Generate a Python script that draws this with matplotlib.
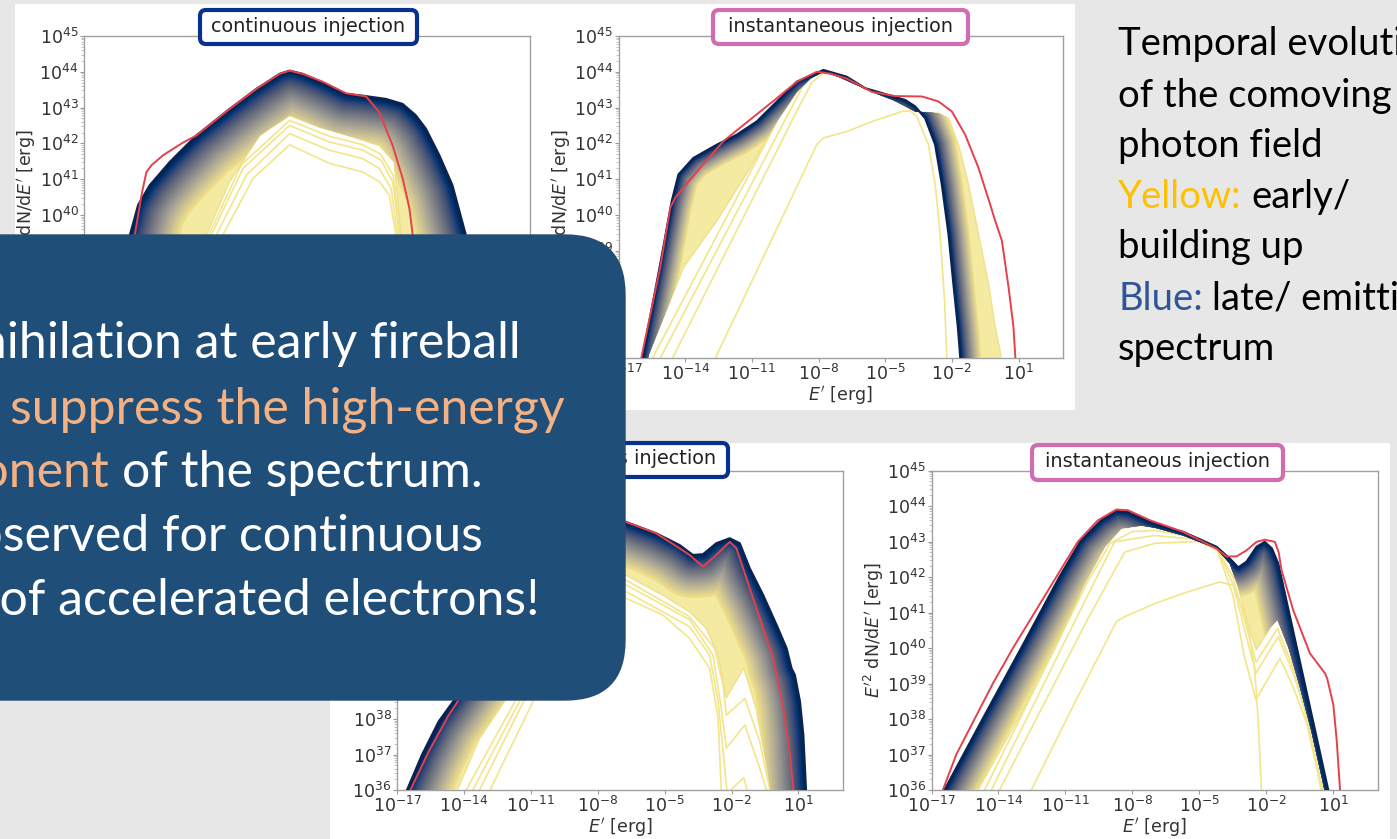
import numpy as np
import matplotlib
matplotlib.use("Agg")
import matplotlib.pyplot as plt
from matplotlib.patches import FancyBboxPatch, Rectangle
from matplotlib.transforms import IdentityTransform
from matplotlib.ticker import LogLocator, NullLocator
from matplotlib.colors import to_rgb

# ---- data: log10(E') and log10(E'^2 dN/dE') ----
# top left: continuous injection
p1_late_e = [-15.6, -14.94, -14.57, -14.05, -13.15, -11.96, -10.47, -9.27, -8.23, -7.78, -7.19, -6.29, -5.25, -4.5, -3.46, -2.71, -2.12, -1.67, -1.07, -0.48, 0.12, 0.5]
p1_late_y = [37.5, 39.44, 40.28, 40.83, 41.48, 42.22, 42.96, 43.52, 43.94, 44.03, 43.94, 43.7, 43.38, 43.33, 43.24, 43.1, 42.78, 42.41, 41.67, 40.83, 39.44, 37.5]
p1_edge_e = [-12.2, -11.51, -10.47, -9.12, -7.78, -6.44, -4.95, -3.76, -3.09, -2.79, -2.6]
p1_edge_y = [37.5, 39.44, 40.93, 42.22, 42.78, 42.45, 42.18, 41.94, 41.48, 39.44, 37.5]
p1_red_e = [-15.2, -14.72, -14.42, -14.2, -13.97, -13.45, -12.56, -11.96, -10.47, -9.27, -8.23, -7.78, -7.19, -6.29, -5.25, -4.35, -3.76, -3.16, -2.71, -2.41, -2.26, -2.1]
p1_red_y = [37.5, 39.44, 40.56, 41.2, 41.39, 41.67, 42.02, 42.22, 42.96, 43.52, 43.94, 44.03, 43.94, 43.72, 43.4, 43.31, 42.87, 41.94, 41.02, 40.19, 39.44, 38.0]
p1_c0_e = [-11.5, -10.77, -9.42, -7.78, -6.0, -4.5, -3.76, -3.31, -3.01, -2.9]
p1_c0_y = [38.0, 39.44, 41.02, 41.96, 41.44, 41.2, 40.93, 40.56, 39.44, 38.5]
p1_c1_e = [-11.8, -11.06, -9.72, -7.78, -6.0, -4.5, -3.76, -3.23, -2.94, -2.85]
p1_c1_y = [38.0, 39.44, 41.11, 42.27, 41.81, 41.57, 41.3, 40.74, 39.44, 38.5]
p1_c2_e = [-12.0, -11.29, -9.87, -7.78, -6.0, -4.5, -3.68, -3.16, -2.86, -2.78]
p1_c2_y = [38.0, 39.44, 41.3, 42.5, 42.04, 41.81, 41.53, 40.93, 39.44, 38.5]
p1_c3_e = [-12.1, -11.4, -9.95, -7.78, -6.0, -4.5, -3.7, -3.13, -2.83, -2.76]
p1_c3_y = [38.0, 39.44, 41.4, 42.64, 42.2, 41.96, 41.7, 41.1, 39.44, 38.5]

# top middle: instantaneous injection
p2_late_e = [-16.2, -15.9, -15.12, -14.6, -14.3, -13.63, -12.58, -11.68, -10.78, -10.03, -8.98, -7.78, -6.73, -5.9, -4.85, -4.1, -3.65, -3.2, -2.75, -2.45, -2.15, -1.93, -1.73, -1.63, -1.55]
p2_late_y = [35.1, 36.08, 38.63, 40.39, 41.13, 41.59, 41.96, 42.24, 42.61, 43.07, 43.72, 44.05, 43.86, 43.54, 43.35, 43.21, 43.03, 42.7, 41.96, 40.85, 39.46, 38.07, 36.87, 36.08, 35.3]
p2_edge_e = [-15.8, -15.65, -14.07, -12.58, -11.08, -9.88, -8.98, -8.38, -7.78, -7.1, -5.6, -4.6, -3.65, -2.6, -2.15, -1.7, -1.25, -0.8, -0.35, -0.05, 0.17, 0.3]
p2_edge_y = [35.5, 36.08, 38.54, 39.83, 41.31, 42.61, 43.44, 43.81, 44.0, 43.86, 43.44, 43.2, 42.89, 42.84, 42.7, 41.96, 40.85, 39.46, 38.07, 36.87, 36.2, 35.6]
p2_red_e = [-16.2, -15.95, -15.12, -14.67, -14.45, -13.33, -12.28, -11.08, -9.88, -8.98, -8.08, -7.48, -6.73, -5.6, -4.55, -3.35, -2.6, -2.0, -1.4, -0.8, -0.28, -0.05, 0.25, 0.55, 0.77, 0.85, 0.9]
p2_red_y = [35.2, 36.08, 38.54, 40.2, 40.48, 41.31, 42.06, 42.66, 43.26, 43.72, 44.0, 43.95, 43.81, 43.44, 43.32, 43.31, 43.17, 42.89, 42.24, 41.31, 40.3, 39.83, 39.28, 37.98, 36.87, 36.08, 35.3]
p2_c0_e = [-12.8, -12.58, -8.08, -7.78, -6.73, -5.6, -4.25, -3.88, -3.58, -3.05, -2.75, -2.53, -2.33, -2.23, -2.2]
p2_c0_y = [35.5, 36.08, 41.96, 42.15, 42.33, 42.61, 42.89, 42.91, 42.75, 41.96, 40.85, 39.46, 37.61, 36.08, 35.5]
p2_c1_e = [-14.75, -14.5, -8.9, -8.3, -7.7]
p2_c1_y = [35.8, 36.08, 43.0, 43.7, 44.0]
p2_c2_e = [-15.3, -15.05, -8.68, -8.1, -7.6]
p2_c2_y = [35.8, 36.08, 43.63, 43.95, 44.02]
p2_c3_e = [-15.6, -15.4, -9.13, -8.4, -7.8]
p2_c3_y = [35.8, 36.08, 43.49, 43.86, 44.0]

# bottom middle: continuous injection
p3_late_e = [-16.8, -16.55, -15.88, -15.13, -14.38, -13.0, -12.0, -10.5, -9.5, -8.5, -7.6, -6.73, -5.38, -4.33, -3.73, -3.28, -2.68, -2.08, -1.63, -1.18, -0.58, 0.02, 0.47, 0.69, 0.84, 1.07, 1.22, 1.34, 1.38]
p3_late_y = [35.6, 36.0, 36.99, 37.93, 38.58, 39.8, 40.8, 42.3, 43.2, 43.7, 43.75, 43.55, 43.23, 42.9, 42.62, 42.64, 42.95, 43.09, 42.95, 42.24, 41.49, 40.65, 39.99, 39.43, 39.24, 38.49, 37.55, 36.0, 35.5]
p3_edge_e = [-14.7, -14.3, -13.3, -11.0, -9.0, -7.8, -6.73, -5.08, -3.88, -3.13, -2.6, -2.23, -1.45, -0.9, -0.4, -0.25, -0.1]
p3_edge_y = [35.6, 36.0, 37.45, 39.6, 41.3, 41.9, 42.05, 41.49, 41.02, 40.55, 39.8, 38.6, 39.43, 38.3, 36.6, 36.0, 35.5]
p3_red_e = [-16.65, -16.4, -15.58, -14.68, -13.0, -11.0, -9.0, -7.6, -6.73, -5.38, -4.33, -3.88, -3.28, -2.68, -2.08, -1.78, -1.33, -0.73, -0.13, 0.32, 0.62, 0.77, 0.82]
p3_red_y = [35.6, 36.0, 37.08, 38.11, 39.7, 41.4, 42.9, 43.75, 43.55, 43.23, 42.81, 42.62, 42.29, 42.62, 42.99, 42.81, 41.96, 40.83, 39.71, 38.3, 36.99, 36.0, 35.6]
p3_c0_e = [-13.1, -12.83, -10.9, -9.0, -7.8, -6.73, -5.08, -3.88, -2.98, -2.6, -2.46, -2.42]
p3_c0_y = [35.6, 36.0, 38.49, 40.3, 41.2, 41.4, 40.93, 40.27, 39.43, 38.02, 36.0, 35.5]
p3_c1_e = [-13.6, -13.3, -11.0, -9.0, -7.8, -6.73, -3.88, -2.98, -2.6, -2.3, -2.2, -1.45, -1.1]
p3_c1_y = [35.6, 36.0, 38.9, 40.8, 41.45, 41.59, 40.6, 39.8, 38.49, 36.61, 35.9, 36.35, 35.5]
p3_c2_e = [-13.9, -13.6, -11.0, -9.0, -7.8, -6.73, -3.88, -2.83, -2.46, -2.23, -1.4, -0.73, -0.43, -0.3]
p3_c2_y = [35.6, 36.0, 39.1, 41.0, 41.65, 41.78, 40.8, 39.8, 38.3, 37.18, 37.83, 36.61, 36.0, 35.6]
p3_c3_e = [-14.2, -13.9, -11.0, -9.0, -7.8, -6.73, -3.88, -2.76, -2.38, -2.23, -1.4, -0.73, -0.28, -0.15]
p3_c3_y = [35.6, 36.0, 39.3, 41.15, 41.8, 41.91, 40.88, 39.99, 38.96, 38.11, 38.58, 37.36, 36.0, 35.6]

# bottom right: instantaneous injection
p4_late_e = [-16.85, -16.42, -14.71, -12.98, -11.27, -10.29, -9.39, -8.72, -8.2, -7.0, -5.73, -4.23, -3.64, -3.26, -2.89, -2.44, -2.07, -1.75, -1.47, 0.77, 0.95]
p4_late_y = [35.5, 36.0, 38.0, 40.0, 42.0, 43.05, 43.6, 43.86, 43.83, 43.5, 43.27, 42.85, 42.52, 42.27, 42.43, 42.85, 42.99, 42.8, 42.38, 36.0, 35.5]
p4_edge_e = [-15.4, -14.92, -13.13, -11.48, -10.14, -9.24, -8.5, -7.6, -7.0, -5.73, -4.23, -3.64, -3.3, -3.0, -2.7, -2.45, -2.1, -1.8, -1.5, -1.0, -0.5, 0.0, 0.5, 0.8]
p4_edge_y = [35.45, 36.0, 37.99, 39.98, 41.81, 42.85, 43.37, 43.45, 43.39, 43.17, 42.8, 42.38, 41.8, 41.1, 40.4, 39.95, 40.3, 40.6, 40.8, 40.0, 38.9, 37.7, 36.3, 35.4]
p4_red_e = [-16.75, -16.49, -15.89, -15.07, -14.25, -13.35, -12.38, -11.41, -10.44, -9.54, -8.72, -8.2, -7.22, -5.73, -4.23, -3.79, -3.34, -2.89, -2.44, -2.07, -1.62, -1.45, -1.32, -0.8, -0.05, 0.62, 0.72, 1.0, 1.15, 1.30, 1.35]
p4_red_y = [35.5, 36.0, 37.0, 38.0, 39.0, 40.0, 41.0, 42.0, 43.0, 43.6, 43.9, 43.88, 43.6, 43.27, 42.8, 42.58, 42.58, 42.75, 42.99, 43.05, 42.99, 42.7, 42.19, 41.07, 39.85, 39.29, 39.15, 38.4, 37.4, 36.0, 35.5]
p4_c0_e = [-12.9, -12.53, -10.59, -8.72, -8.35, -7.0, -5.73, -4.09, -3.49, -3.04, -2.74, -2.52, -2.37, -2.22, -2.18]
p4_c0_y = [35.55, 36.0, 38.45, 40.74, 40.88, 41.25, 41.54, 41.86, 41.77, 41.07, 40.32, 39.38, 37.98, 36.0, 35.5]
p4_c1_e = [-14.35, -13.95, -12.0, -10.0, -8.35, -7.0, -5.0, -4.2, -3.5, -3.0, -2.47, -1.39, -0.8, -0.2, 0.3, 0.5]
p4_c1_y = [35.5, 36.0, 38.38, 40.82, 42.7, 42.95, 43.0, 42.75, 41.5, 39.8, 38.54, 39.71, 38.9, 37.9, 36.5, 35.8]
p4_c2_e = [-14.7, -14.32, -12.0, -10.0, -8.8, -7.0, -5.0, -4.2, -3.5, -2.47, -1.47, -0.8, -0.2, 0.3, 0.55]
p4_c2_y = [35.5, 36.0, 38.95, 41.49, 42.99, 43.17, 43.05, 42.8, 41.8, 39.29, 40.32, 39.3, 38.1, 36.6, 35.8]
p4_c3_e = [-15.05, -14.62, -12.0, -10.0, -9.0, -8.0, -7.0, -5.0, -4.2, -3.5, -2.46, -1.5, -0.9, -0.3, 0.3, 0.6]
p4_c3_y = [35.45, 36.0, 39.33, 41.87, 42.95, 43.28, 43.31, 43.1, 42.8, 42.0, 39.6, 40.55, 39.6, 38.3, 36.6, 35.8]

titles = ["continuous injection", "instantaneous injection", "continuous injection", "instantaneous injection"]
ylab = r"$E'^2$ dN/d$E'$ [erg]"
xlab = r"$E'$ [erg]"

box_lines = [
    [("Pair annihilation at early fireball", "white")],
    [("stages can", "white"), ("suppress the high-energy", "#f4b183")],
    [("component", "#f4b183"), ("of the spectrum.", "white")],
    [("Not observed for continuous", "white")],
    [("injection of accelerated electrons!", "white")],
]
side_lines = [
    [("Temporal evolution", "black")],
    [("of the comoving", "black")],
    [("photon field", "black")],
    [("Yellow:", "#ffc000"), ("early/", "black")],
    [("building up", "black")],
    [("Blue:", "#2f5597"), ("late/ emitting", "black")],
    [("spectrum", "black")],
]

# ---- figure ----
W, H = 1397, 839
fig = plt.figure(figsize=(W / 100, H / 100), dpi=100)
fig.patch.set_facecolor("#e7e7e7")
px = IdentityTransform()
cmap = plt.get_cmap("cividis")


def rect(x0, y0, x1, y1, **kw):
    fig.add_artist(Rectangle((x0, H - y1), x1 - x0, y1 - y0, transform=px, **kw))


def rbox(x0, y0, x1, y1, r, **kw):
    fig.add_artist(FancyBboxPatch((x0, H - y1), x1 - x0, y1 - y0, boxstyle="round,pad=0,rounding_size=%g" % r,
                                  transform=px, **kw))


rect(15, 4, 1075, 410, fc="white", ec="none", zorder=-5)
rect(330, 443, 1390, 839, fc="white", ec="none", zorder=-5)


def lighten(c, a):
    c = np.array(to_rgb(c))
    return tuple(c + (1 - c) * a)


def panel(pos, late, edge, red, early, wmax):
    x0, y0, x1, y1 = pos
    ax = fig.add_axes([x0 / W, 1 - y1 / H, (x1 - x0) / W, (y1 - y0) / H])
    ax.set_xscale("log")
    ax.set_yscale("log")
    le, ly = np.array(late[0]), np.array(late[1])
    ee, ey = np.array(edge[0]), np.array(edge[1])
    poly, = ax.fill(10.0 ** np.concatenate([le, ee[::-1]]), 10.0 ** np.concatenate([ly, ey[::-1]]),
                    color="#f5eaa2", lw=0, zorder=2)
    n = 24
    for k in range(n):
        t = 0.9 * (1 - k / (n - 1))
        ln, = ax.plot(10.0 ** le, 10.0 ** ly, color=lighten(cmap(t), 0.35 * t), lw=wmax * (1 - k / n),
                      solid_joinstyle="round", solid_capstyle="round", zorder=3)
        ln.set_clip_path(poly)
    for e, y in early:
        ax.plot(10.0 ** np.array(e), 10.0 ** np.array(y), color="#f3e58a", lw=1.2, zorder=2.5)
    ax.plot(10.0 ** ee, 10.0 ** ey, color="#efe08a", lw=1.0, zorder=2.6)
    ax.plot(10.0 ** le, 10.0 ** ly, color="#0d2452", lw=1.6, zorder=4)
    ax.plot(10.0 ** np.array(red[0]), 10.0 ** np.array(red[1]), color="#e5404c", lw=1.4, zorder=5)

    ax.set_xlim(1e-17, 1e3)
    ax.set_ylim(1e36, 1e45)
    ax.set_xticks(10.0 ** np.arange(-17, 2, 3))
    ax.xaxis.set_minor_locator(NullLocator())
    ax.set_yticks(10.0 ** np.arange(36, 46))
    ax.yaxis.set_minor_locator(LogLocator(base=10, subs=np.arange(2, 10), numticks=100))
    ax.tick_params(labelsize=12.5, colors="#999999", labelcolor="#333333", length=3, width=0.8, pad=1)
    ax.tick_params(which="minor", length=2, width=0.5, colors="#aaaaaa")
    for s in ax.spines.values():
        s.set_color("#a0a0a0")
        s.set_linewidth(1.0)
    ax.set_ylabel(ylab, fontsize=12.5, color="#333333", labelpad=1)
    ax.set_xlabel(xlab, fontsize=12.5, color="#333333", labelpad=0)
    return ax


panel((84, 36, 530, 358), (p1_late_e, p1_late_y), (p1_edge_e, p1_edge_y), (p1_red_e, p1_red_y),
      [(p1_c0_e, p1_c0_y), (p1_c1_e, p1_c1_y), (p1_c2_e, p1_c2_y), (p1_c3_e, p1_c3_y)], 70)
panel((618.5, 36, 1063, 358), (p2_late_e, p2_late_y), (p2_edge_e, p2_edge_y), (p2_red_e, p2_red_y),
      [(p2_c0_e, p2_c0_y), (p2_c1_e, p2_c1_y), (p2_c2_e, p2_c2_y), (p2_c3_e, p2_c3_y)], 30)
panel((397, 470.5, 843, 790), (p3_late_e, p3_late_y), (p3_edge_e, p3_edge_y), (p3_red_e, p3_red_y),
      [(p3_c0_e, p3_c0_y), (p3_c1_e, p3_c1_y), (p3_c2_e, p3_c2_y), (p3_c3_e, p3_c3_y)], 62)
panel((931.5, 470.5, 1378, 790), (p4_late_e, p4_late_y), (p4_edge_e, p4_edge_y), (p4_red_e, p4_red_y),
      [(p4_c0_e, p4_c0_y), (p4_c1_e, p4_c1_y), (p4_c2_e, p4_c2_y), (p4_c3_e, p4_c3_y)], 42)

# panel titles in rounded frames
title_frames = [(200, 10, 417, 44, "#08308f"), (713, 10, 968, 44, "#cf6cb2"),
                (511, 443, 728, 477, "#08308f"), (1032, 445, 1283, 480, "#cf6cb2")]
for (x0, y0, x1, y1, ec), t in zip(title_frames, titles):
    rbox(x0, y0, x1, y1, 6, fc="white", ec=ec, lw=3, zorder=2)
    fig.text((x0 + x1) / 2 / W, 1 - ((y0 + y1) / 2 - 1) / H, t, ha="center", va="center",
             fontsize=13.9, color="#222222", zorder=3)

# overlay box
rbox(-80, 235, 625, 700, 60, fc="#1f4e79", ec="#2a4a72", lw=1, zorder=10)

renderer = fig.canvas.get_renderer()


def text_w(s, size):
    t = fig.text(0, 0, s, fontsize=size, family="Lato")
    w = t.get_window_extent(renderer).width
    t.remove()
    return w


box_size = 36
space = text_w("a a", box_size) - text_w("aa", box_size)
box_right = [521, 565, 483, 483, 540]
box_base = [358, 423, 487, 551, 614]
for parts, xr, yb in zip(box_lines, box_right, box_base):
    x = xr
    for s, c in reversed(parts):
        fig.text(x / W, 1 - yb / H, s, ha="right", va="baseline", color=c, fontsize=box_size,
                 family="Lato", zorder=11)
        x -= text_w(s, box_size) + space

side_size = 27.5
sp2 = text_w("a a", side_size) - text_w("aa", side_size)
side_base = [55, 107, 157, 208, 258, 310, 360]
for parts, yb in zip(side_lines, side_base):
    x = 1118
    for s, c in parts:
        fig.text(x / W, 1 - yb / H, s, ha="left", va="baseline", color=c, fontsize=side_size,
                 family="Lato", zorder=11)
        x += text_w(s, side_size) + sp2

fig.savefig("out.png", dpi=100, facecolor=fig.get_facecolor())
